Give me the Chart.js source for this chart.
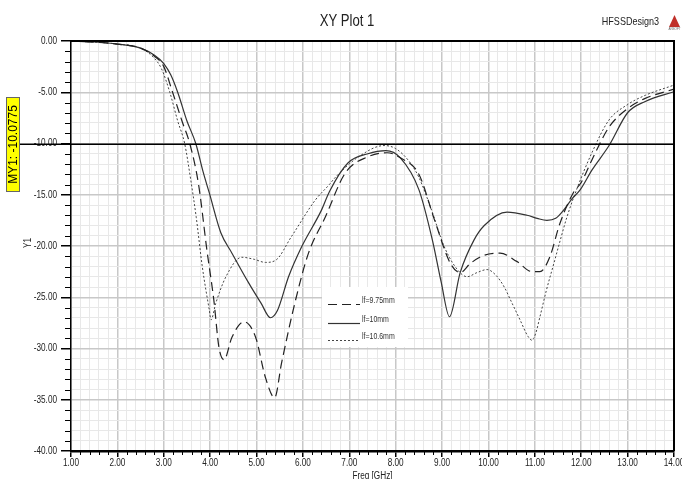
<!DOCTYPE html>
<html>
<head>
<meta charset="utf-8">
<script src="https://cdn.jsdelivr.net/npm/chart.js@4.4.1/dist/chart.umd.min.js"></script>
<style>
  html, body { margin: 0; padding: 0; background: #fff; overflow: hidden; }
  canvas { display: block; }
</style>
</head>
<body>
<canvas id="plot" width="682" height="479"></canvas>
<script>
// values (dB vs GHz)
const seriesNames = ["lf=9.75mm", "lf=10mm", "lf=10.6mm"];

const freqA = [1.0, 1.5, 2.0, 2.5, 2.8, 3.0, 3.19, 3.4, 3.56, 3.75, 3.93, 4.08, 4.19, 4.30, 4.47, 4.73, 4.98, 5.19, 5.39, 5.54, 5.84, 6.12, 6.48, 6.91, 7.4, 7.82, 8.1, 8.5, 8.84, 9.18, 9.39, 9.61, 9.91, 10.25, 10.61, 10.94, 11.11, 11.32, 11.54, 11.83, 12.0, 12.23, 12.6, 13.0, 13.38, 14.0];
const s11A  = [0, -0.1, -0.3, -0.7, -1.5, -2.5, -5.0, -7.9, -10.0, -14.0, -20.4, -25.3, -29.9, -31.1, -28.9, -27.4, -28.9, -32.8, -34.8, -31.4, -25.3, -20.7, -17.2, -12.9, -11.3, -10.9, -11.4, -13.0, -17.5, -21.7, -22.6, -21.7, -20.9, -20.7, -21.5, -22.5, -22.5, -21.1, -17.8, -14.8, -13.8, -11.6, -8.4, -6.6, -5.6, -4.7];

const freqB = [1.0, 1.5, 2.0, 2.5, 2.8, 3.0, 3.15, 3.3, 3.5, 3.69, 3.85, 3.98, 4.23, 4.47, 4.83, 5.1, 5.3, 5.45, 5.69, 5.97, 6.4, 6.57, 6.97, 7.4, 7.79, 8.1, 8.5, 8.79, 8.98, 9.16, 9.39, 9.69, 9.91, 10.4, 10.83, 11.05, 11.26, 11.45, 11.62, 11.8, 11.98, 12.23, 12.6, 13.0, 13.38, 14.0];
const s11B  = [0, -0.1, -0.3, -0.7, -1.4, -2.2, -3.3, -5.0, -7.8, -10.0, -12.8, -14.8, -18.7, -20.7, -23.6, -25.6, -27.0, -26.3, -23.0, -20.1, -16.5, -14.7, -11.9, -11.0, -10.7, -11.4, -14.5, -19.4, -23.5, -26.9, -22.6, -19.4, -18.0, -16.7, -17.0, -17.3, -17.5, -17.3, -16.5, -15.4, -14.5, -12.6, -10.2, -7.0, -5.9, -4.95];

const freqC = [1.0, 1.5, 2.0, 2.5, 2.8, 2.95, 3.13, 3.3, 3.45, 3.58, 3.70, 3.83, 3.98, 4.02, 4.12, 4.34, 4.68, 4.95, 5.19, 5.41, 5.75, 6.27, 6.57, 6.70, 7.2, 7.75, 8.0, 8.3, 8.5, 8.75, 9.05, 9.33, 9.54, 9.75, 9.97, 10.15, 10.34, 10.5, 10.68, 10.85, 10.94, 11.02, 11.11, 11.25, 11.41, 11.55, 11.69, 11.9, 12.23, 12.6, 13.0, 13.38, 14.0];
const s11C  = [0, -0.1, -0.3, -0.7, -1.7, -2.7, -5.0, -7.8, -10.0, -13.5, -17.2, -22.0, -26.2, -27.2, -25.6, -23.0, -21.1, -21.3, -21.6, -21.4, -19.1, -15.5, -14.0, -13.3, -11.3, -10.2, -10.5, -11.8, -13.3, -16.2, -20.1, -22.3, -23.0, -22.6, -22.3, -22.8, -24.0, -25.5, -27.2, -28.8, -29.2, -28.5, -26.9, -24.3, -21.7, -19.4, -17.2, -14.5, -10.9, -7.7, -6.2, -5.3, -4.3];

const xMajorTicks = [1, 2, 3, 4, 5, 6, 7, 8, 9, 10, 11, 12, 13, 14];
const yMajorTicks = [0, -5, -10, -15, -20, -25, -30, -35, -40];
const markerValue = -10.0775;
const markerText = "MY1: -10.0775";

const FONT = "'Liberation Sans', Arial, sans-serif";
const isMajor = (v, list) => list.some(t => Math.abs(t - v) < 1e-6);

function pts(xs, ys) {
  return xs.map((x, i) => ({ x: x, y: ys[i] }));
}

// narrow text (HFSS uses Arial Narrow)
function txt(c, s, x, y, size, align, rot, squeeze) {
  c.save();
  c.translate(x, y);
  if (rot) c.rotate(rot);
  c.scale(squeeze || 0.82, 1);
  c.font = size + "px " + FONT;
  c.textAlign = align;
  c.textBaseline = "middle";
  c.fillText(s, 0, 0);
  c.restore();
}

const overlay = {
  id: "overlay",
  afterDraw(chart) {
    const c = chart.ctx;
    const a = chart.chartArea;
    const xs = chart.scales.x, ys = chart.scales.y;
    c.save();

    // minor ticks
    c.strokeStyle = "#000";
    c.lineWidth = 1;
    xs.ticks.forEach(t => {
      if (isMajor(t.value, xMajorTicks)) return;
      const px = Math.round(xs.getPixelForValue(t.value)) + 0.5;
      c.beginPath(); c.moveTo(px, a.bottom); c.lineTo(px, a.bottom + 4); c.stroke();
    });
    ys.ticks.forEach(t => {
      if (isMajor(t.value, yMajorTicks)) return;
      const py = Math.round(ys.getPixelForValue(t.value)) + 0.5;
      c.beginPath(); c.moveTo(a.left - 6, py); c.lineTo(a.left, py); c.stroke();
    });

    // tick labels
    c.fillStyle = "#222";
    xMajorTicks.forEach(v => txt(c, v.toFixed(2), xs.getPixelForValue(v), 463, 10, "center"));
    yMajorTicks.forEach(v => txt(c, v.toFixed(2), 57, ys.getPixelForValue(v), 10, "right"));

    // top and right frame
    c.lineWidth = 2;
    c.beginPath();
    c.moveTo(a.left, a.top); c.lineTo(a.right, a.top); c.lineTo(a.right, a.bottom);
    c.stroke();

    // marker line + label
    const my = ys.getPixelForValue(markerValue);
    c.lineWidth = 1.5;
    c.beginPath(); c.moveTo(20, my); c.lineTo(a.right, my); c.stroke();
    c.fillStyle = "#ffff00";
    c.fillRect(6, 97, 14, 95);
    c.strokeStyle = "#666"; c.lineWidth = 1;
    c.strokeRect(6.5, 97.5, 13, 94);
    c.fillStyle = "#000";
    txt(c, markerText, 13.5, 144.5, 12, "center", -Math.PI / 2, 1);

    // legend box
    c.fillStyle = "#fff";
    c.fillRect(322, 287, 86, 60);
    const rows = [304, 323, 340];
    chart.data.datasets.forEach((d, i) => {
      c.strokeStyle = d.borderColor;
      c.lineWidth = d.borderWidth;
      c.setLineDash(d.borderDash || []);
      c.beginPath(); c.moveTo(328, rows[i] + 0.5); c.lineTo(360, rows[i] + 0.5); c.stroke();
      c.setLineDash([]);
      c.fillStyle = "#333";
      txt(c, d.label, 362, rows[i] - 3, 8.5, "left");
    });

    // titles
    c.fillStyle = "#222";
    txt(c, "XY Plot 1", 347, 22, 16, "center");
    txt(c, "HFSSDesign3", 659, 22, 11, "right");
    c.fillStyle = "#c0302a";
    c.beginPath(); c.moveTo(674.5, 15); c.lineTo(680, 27); c.lineTo(669, 27); c.closePath(); c.fill();
    c.fillStyle = "#666";
    txt(c, "ANSOFT", 674.5, 29, 3, "center", 0, 1);

    c.fillStyle = "#222";
    txt(c, "Freq [GHz]", (a.left + a.right) / 2, 476, 10, "center");
    txt(c, "Y1", 28, 243, 10, "center", -Math.PI / 2);

    c.restore();
  }
};

new Chart(document.getElementById("plot").getContext("2d"), {
  type: "line",
  data: {
    datasets: [
      { label: seriesNames[0], data: pts(freqA, s11A), borderColor: "#222", borderWidth: 1.2, borderDash: [9, 5] },
      { label: seriesNames[1], data: pts(freqB, s11B), borderColor: "#333", borderWidth: 1.2 },
      { label: seriesNames[2], data: pts(freqC, s11C), borderColor: "#444", borderWidth: 1, borderDash: [2, 2] }
    ]
  },
  options: {
    responsive: false,
    animation: false,
    devicePixelRatio: 1,
    layout: { padding: { top: 41, right: 8, left: 0, bottom: 0 } },
    elements: {
      point: { radius: 0 },
      line: { cubicInterpolationMode: "monotone", fill: false }
    },
    plugins: { legend: { display: false }, tooltip: { enabled: false }, title: { display: false } },
    scales: {
      x: {
        type: "linear",
        min: 1, max: 14,
        afterFit(s) { s.height = 28; s.paddingLeft = 0; s.paddingRight = 0; },
        ticks: { display: false, stepSize: 0.2, autoSkip: false, maxTicksLimit: 200, maxRotation: 0, minRotation: 0 },
        grid: {
          color: ctx => isMajor(ctx.tick ? ctx.tick.value : 0, xMajorTicks) ? "#c8c8c8" : "#e8e8e8",
          lineWidth: ctx => isMajor(ctx.tick ? ctx.tick.value : 0, xMajorTicks) ? 1.5 : 1,
          tickColor: ctx => isMajor(ctx.tick ? ctx.tick.value : 0, xMajorTicks) ? "#000" : "rgba(0,0,0,0)",
          tickLength: 6
        },
        border: { color: "#000", width: 2.5 }
      },
      y: {
        type: "linear",
        min: -40, max: 0,
        afterFit(s) { s.width = 71; s.paddingTop = 0; s.paddingBottom = 0; },
        ticks: { display: false, stepSize: 1, autoSkip: false, maxTicksLimit: 200 },
        grid: {
          color: ctx => isMajor(ctx.tick ? ctx.tick.value : 0, yMajorTicks) ? "#c8c8c8" : "#e8e8e8",
          lineWidth: ctx => isMajor(ctx.tick ? ctx.tick.value : 0, yMajorTicks) ? 1.5 : 1,
          tickColor: ctx => isMajor(ctx.tick ? ctx.tick.value : 0, yMajorTicks) ? "#000" : "rgba(0,0,0,0)",
          tickLength: 10
        },
        border: { color: "#000", width: 1.5 }
      }
    }
  },
  plugins: [overlay]
});
</script>
</body>
</html>
